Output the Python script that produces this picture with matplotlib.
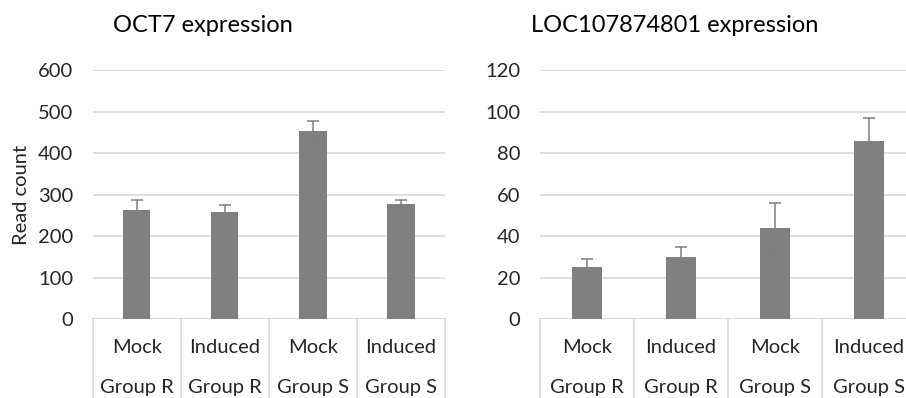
import matplotlib
matplotlib.use("Agg")
import matplotlib.pyplot as plt

plt.rcParams['font.family'] = ['Lato', 'DejaVu Sans']

# data
treatments = ["Mock", "Induced", "Mock", "Induced"]
groups = ["Group R", "Group R", "Group S", "Group S"]
oct7_mean = [264, 258, 452, 278]
oct7_err = [22, 17, 26, 8]
loc_mean = [25, 30, 44, 86]
loc_err = [4, 5, 12, 11]

bar_col = "#808080"
err_col = "#7f7f7f"
grid_col = "#d9d9d9"
txt_col = "#262626"
W, H = 906, 398

fig = plt.figure(figsize=(W / 100, H / 100), dpi=100)

def panel(x0, x1, ytop, ybot, means, errs, ymax, step, ylabel=None):
    h = ybot - ytop
    ax = fig.add_axes([x0 / W, 1 - ybot / H, (x1 - x0) / W, h / H])
    x = list(range(len(means)))
    ax.bar(x, means, width=0.31, color=bar_col, zorder=3)
    ax.errorbar(x, means, yerr=errs, fmt="none", ecolor=err_col,
                elinewidth=1.1, capsize=4, capthick=1.1, zorder=4)
    ax.set_xlim(-0.5, len(means) - 0.5)
    ax.set_ylim(0, ymax)
    ax.set_yticks(range(0, ymax + 1, step))
    ax.tick_params(axis="y", length=0, pad=14, labelsize=14.5, colors=txt_col)
    ax.set_xticks([])
    for s in ax.spines.values():
        s.set_visible(False)
    ax.grid(axis="y", color=grid_col, linewidth=1.2, zorder=0)
    ax.axhline(0, color=grid_col, linewidth=1.2, zorder=2)
    # category boxes below the axis
    tr = ax.get_xaxis_transform()
    for b in [i - 0.5 for i in range(len(means) + 1)]:
        ax.plot([b, b], [0, -0.5], color=grid_col, lw=1.2, transform=tr, clip_on=False)
    for i in x:
        ax.text(i, -28 / h, treatments[i], transform=tr,
                ha="center", va="center", fontsize=14.5, color=txt_col)
        ax.text(i, -68 / h, groups[i], transform=tr,
                ha="center", va="center", fontsize=14.5, color=txt_col)
    if ylabel:
        ax.set_ylabel(ylabel, fontsize=14.5, color=txt_col, labelpad=6)
    return ax

ax1 = panel(92.7, 445, 70, 319.3, oct7_mean, oct7_err, 600, 100, "Read count")
ax2 = panel(540, 916, 70, 319.3, loc_mean, loc_err, 120, 20)

fig.text(203 / W, 1 - 25 / H, "OCT7 expression", ha="center", va="center", fontsize=17, color="#000000")
fig.text(675 / W, 1 - 25 / H, "LOC107874801 expression", ha="center", va="center", fontsize=17, color="#000000")

fig.savefig("out.png", dpi=100)
